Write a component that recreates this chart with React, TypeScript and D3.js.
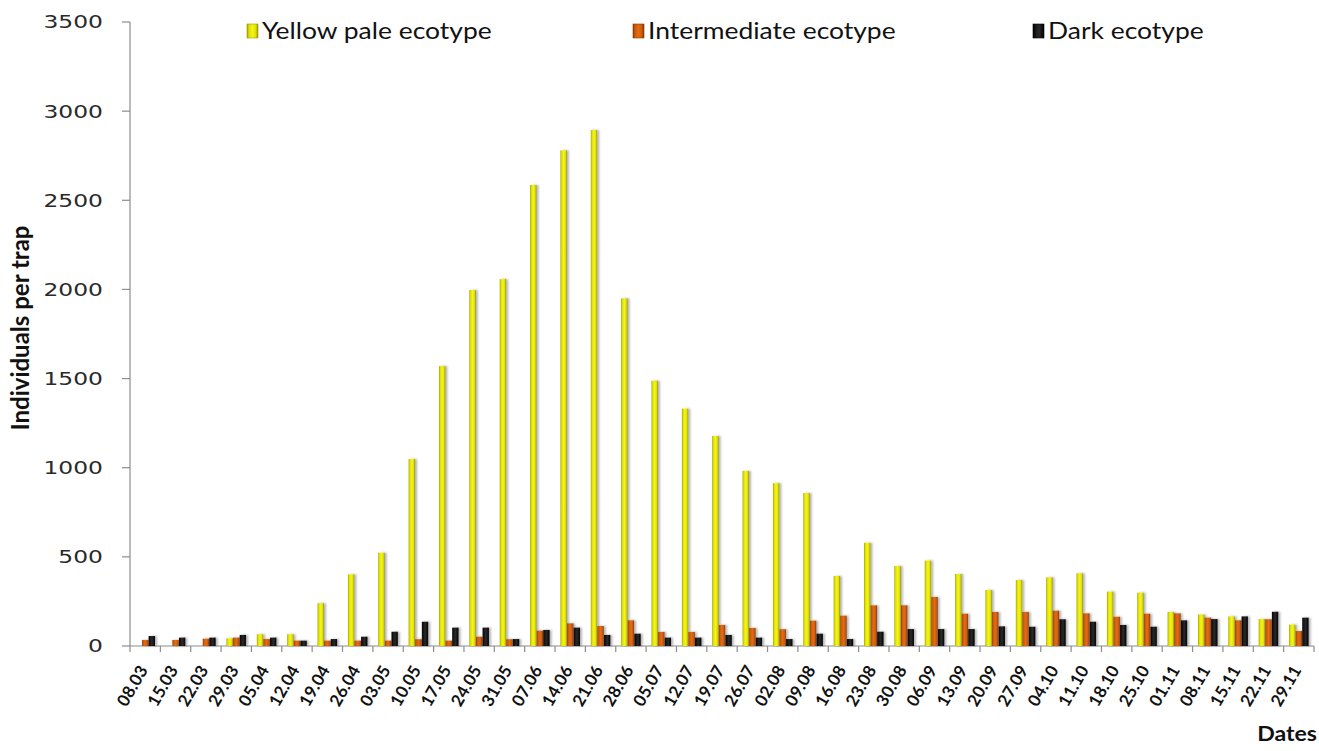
import { useEffect, useRef } from 'react';
import * as d3 from 'd3';

const dates = [
  '08.03', '15.03', '22.03', '29.03', '05.04', '12.04', '19.04', '26.04', '03.05', '10.05',
  '17.05', '24.05', '31.05', '07.06', '14.06', '21.06', '28.06', '05.07', '12.07', '19.07',
  '26.07', '02.08', '09.08', '16.08', '23.08', '30.08', '06.09', '13.09', '20.09', '27.09',
  '04.10', '11.10', '18.10', '25.10', '01.11', '08.11', '15.11', '22.11', '29.11',
];

const yellowPale = [
  0, 0, 0, 43, 66, 66, 240, 402, 523, 1049,
  1570, 1997, 2058, 2586, 2780, 2894, 1950, 1488, 1331, 1178,
  982, 913, 858, 393, 579, 449, 479, 404, 314, 370,
  385, 408, 305, 299, 191, 176, 166, 151, 120,
];

const intermediate = [
  34, 34, 41, 47, 39, 30, 30, 30, 30, 38,
  30, 52, 38, 86, 127, 112, 144, 79, 79, 118,
  101, 94, 142, 170, 228, 228, 275, 181, 191, 191,
  198, 183, 164, 181, 183, 159, 144, 150, 84,
];

const dark = [
  56, 47, 47, 62, 47, 30, 39, 52, 80, 136,
  103, 103, 39, 90, 103, 62, 69, 47, 47, 62,
  47, 39, 69, 39, 80, 95, 95, 95, 110, 108,
  150, 136, 118, 108, 144, 151, 166, 192, 159,
];

const seriesNames = ['Yellow pale ecotype', 'Intermediate ecotype', 'Dark ecotype'];
const yTicks = [0, 500, 1000, 1500, 2000, 2500, 3000, 3500];

export default function App() {
  const svgRef = useRef<SVGSVGElement>(null);

  useEffect(() => {
    if (!svgRef.current) return;
    const svg = d3.select(svgRef.current);
    svg.selectAll('*').remove();

    const W = 1319;
    const H = 751;
    const margin = { top: 22, right: 5, bottom: 105, left: 130 };
    const width = W - margin.left - margin.right;
    const height = H - margin.top - margin.bottom;

    // gradients to get the bevelled Excel look
    const defs = svg.append('defs');
    const grad = (id: string, stops: [number, string][]) => {
      const lg = defs.append('linearGradient').attr('id', id).attr('x1', '0').attr('x2', '1').attr('y1', '0').attr('y2', '0');
      stops.forEach(([o, c]) => lg.append('stop').attr('offset', `${o}%`).attr('stop-color', c));
    };
    grad('g-yellow', [[0, '#9c9c00'], [18, '#dede00'], [50, '#f5f51e'], [80, '#e0e000'], [100, '#8f8f10']]);
    grad('g-orange', [[0, '#8a3a05'], [18, '#cc5a0c'], [50, '#e46c14'], [80, '#cc5a0c'], [100, '#7a3408']]);
    grad('g-dark', [[0, '#000000'], [30, '#1c1c1c'], [55, '#2a2a2a'], [100, '#000000']]);
    defs.append('filter').attr('id', 'shadow').attr('x', '-50%').attr('y', '-10%').attr('width', '200%').attr('height', '120%')
      .append('feDropShadow').attr('dx', 2).attr('dy', 0).attr('stdDeviation', 1.3).attr('flood-color', '#000').attr('flood-opacity', 0.3);

    const fills = ['url(#g-yellow)', 'url(#g-orange)', 'url(#g-dark)'];
    const series = [yellowPale, intermediate, dark];

    const g = svg.append('g').attr('transform', `translate(${margin.left},${margin.top})`);

    const x0 = d3.scaleBand<string>().domain(dates).range([0, width]).paddingInner(0.34).paddingOuter(0.17);
    const x1 = d3.scaleBand<number>().domain([0, 1, 2]).range([0, x0.bandwidth()]).padding(0.04);
    const y = d3.scaleLinear().domain([0, 3500]).range([height, 0]);

    // y axis
    g.append('line').attr('x1', 0).attr('x2', 0).attr('y1', 0).attr('y2', height).attr('stroke', '#8c8c8c').attr('stroke-width', 1.2);
    yTicks.forEach((t) => {
      g.append('line').attr('x1', -8).attr('x2', 0).attr('y1', y(t)).attr('y2', y(t)).attr('stroke', '#8c8c8c').attr('stroke-width', 1.2);
      g.append('text')
        .attr('x', 0)
        .attr('y', 0)
        .attr('dy', '0.36em')
        .attr('text-anchor', 'end')
        .attr('font-family', 'DejaVu Sans, Verdana, sans-serif')
        .attr('font-size', 18)
        .attr('transform', `translate(-27,${y(t)}) scale(1.3,1)`)
        .attr('fill', '#2a2a2a')
        .text(t);
    });

    // x axis
    g.append('line').attr('x1', 0).attr('x2', width).attr('y1', height).attr('y2', height).attr('stroke', '#8c8c8c').attr('stroke-width', 1.2);
    const outer = x0.paddingOuter() * x0.step();
    dates.forEach((d) => {
      const xs = (x0(d) ?? 0) - outer;
      g.append('line').attr('x1', xs).attr('x2', xs).attr('y1', height).attr('y2', height + 6).attr('stroke', '#8c8c8c').attr('stroke-width', 1.2);
    });
    g.append('line').attr('x1', width).attr('x2', width).attr('y1', height).attr('y2', height + 6).attr('stroke', '#8c8c8c').attr('stroke-width', 1.2);

    dates.forEach((d) => {
      const cx = (x0(d) ?? 0) + x0.bandwidth() / 2 - 2;
      g.append('text')
        .attr('transform', `translate(${cx},${height + 21}) rotate(-60)`)
        .attr('text-anchor', 'end')
        .attr('dy', '0.35em')
        .attr('font-family', 'Lato, Carlito, sans-serif')
        .attr('font-weight', 700)
        .attr('font-size', 17)
        .attr('fill', '#111')
        .text(d);
    });

    // bars
    series.forEach((vals, s) => {
      g.append('g')
        .attr('filter', 'url(#shadow)')
        .selectAll('rect')
        .data(vals)
        .enter()
        .append('rect')
        .attr('x', (_v, i) => (x0(dates[i]) ?? 0) + (x1(s) ?? 0))
        .attr('y', (v) => y(v))
        .attr('width', x1.bandwidth())
        .attr('height', (v) => height - y(v))
        .attr('fill', fills[s]);
    });

    // axis titles
    svg.append('text')
      .attr('transform', `translate(29,${margin.top + height / 2 - 6}) rotate(-90)`)
      .attr('text-anchor', 'middle')
      .attr('font-family', 'Lato, Carlito, sans-serif')
      .attr('font-weight', 700)
      .attr('font-size', 24)
      .attr('fill', '#111')
      .text('Individuals per trap');

    svg.append('text')
      .attr('x', 0)
      .attr('y', 0)
      .attr('transform', 'translate(1317,741) scale(1.1,1)')
      .attr('text-anchor', 'end')
      .attr('font-family', 'Lato, Carlito, sans-serif')
      .attr('font-weight', 700)
      .attr('font-size', 21)
      .attr('fill', '#111')
      .text('Dates');

    // legend
    const legendX = [247, 633, 1033];
    seriesNames.forEach((name, s) => {
      svg.append('rect')
        .attr('x', legendX[s])
        .attr('y', 24)
        .attr('width', 11)
        .attr('height', 14)
        .attr('fill', fills[s])
        .attr('stroke', s === 0 ? '#9c9c00' : s === 1 ? '#8a3a05' : '#000')
        .attr('stroke-width', 0.6);
      svg.append('text')
        .attr('x', 0)
        .attr('y', 0)
        .attr('transform', `translate(${legendX[s] + 15},39) scale(1.15,1)`)
        .attr('font-family', 'Lato, Carlito, sans-serif')
        .attr('font-size', 23)
        .attr('fill', '#111')
        .text(name);
    });
  }, []);

  return (
    <svg
      ref={svgRef}
      width={1319}
      height={751}
      style={{ position: 'absolute', left: 0, top: 0, background: '#fff' }}
    />
  );
}
